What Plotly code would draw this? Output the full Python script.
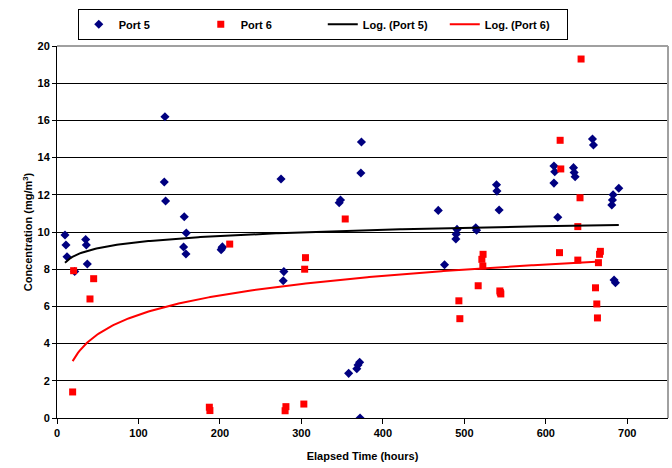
import numpy as np
import plotly.graph_objects as go

# Port 5 data (elapsed hours, concentration mg/m3)
port5_x = [9.8, 11, 12.3, 21.7, 35.2, 36, 37.2,
           132.5, 131.7, 133.3,
           156.2, 158.7, 155.4, 158.3,
           201.5, 202.5, 203,
           275, 278.5, 277.7,
           346.4, 348,
           373.7, 373,
           358, 368, 369.5, 371.5, 372,
           468, 475.7,
           491, 490, 489.6,
           514, 515,
           539.5, 540, 542.7,
           610, 611, 610, 614.7,
           634, 634.8, 636,
           657.3, 658.5,
           681, 681.8, 682.6, 689.6,
           683.8, 685.5]
port5_y = [9.84, 9.3, 8.67, 7.88, 9.6, 9.3, 8.28,
           16.2, 12.69, 11.67,
           10.82, 9.95, 9.19, 8.82,
           9.05, 9.14, 9.2,
           12.85, 7.87, 7.38,
           11.57, 11.72,
           14.84, 13.17,
           2.4, 2.65, 2.85, 3.0, 0.0,
           11.16, 8.24,
           10.14, 9.88, 9.62,
           10.23, 10.1,
           12.54, 12.2, 11.18,
           13.55, 13.24, 12.63, 10.79,
           13.46, 13.2, 12.97,
           15.0, 14.68,
           11.45, 11.72, 12.0, 12.35,
           7.42, 7.27]

# Port 6 data
port6_x = [19.2, 20.4, 40.5, 45,
           187, 187.7, 212,
           280, 281, 303, 304, 305, 353.8,
           493.3, 494.5, 517, 521.5, 522.7, 523,
           543.6, 544.8, 544.2,
           616.8, 617.6, 618.4, 639.3, 639.3, 642, 643.3,
           661, 662.6, 663.4, 664.6, 666, 667]
port6_y = [1.40, 7.92, 6.4, 7.49,
           0.58, 0.4, 9.35,
           0.39, 0.61, 0.75, 8.0, 8.62, 10.7,
           6.3, 5.34, 7.11, 8.53, 8.17, 8.8,
           6.83, 6.67, 6.75,
           8.89, 14.93, 13.39, 10.29, 8.49, 11.84, 19.3,
           7.0, 6.13, 5.38, 8.35, 8.8, 8.96]

# Logarithmic trendline coefficients (y = a*ln(x) + b)
trend5_a, trend5_b = 0.477, 7.26
trend6_a, trend6_b = 1.51, -1.405

x_ticks = [0, 100, 200, 300, 400, 500, 600, 700]
y_ticks = [0, 2, 4, 6, 8, 10, 12, 14, 16, 18, 20]


def log_curve(xs, a, b):
    xs = np.asarray(xs, float)
    xx = np.linspace(xs.min(), xs.max(), 300)
    return xx, a * np.log(xx) + b


t5x, t5y = log_curve(port5_x, trend5_a, trend5_b)
t6x, t6y = log_curve(port6_x, trend6_a, trend6_b)

fig = go.Figure()
fig.add_trace(go.Scatter(x=port5_x, y=port5_y, mode="markers", name="<b>Port 5</b>",
                         marker=dict(symbol="diamond", size=7, color="#000080")))
fig.add_trace(go.Scatter(x=port6_x, y=port6_y, mode="markers", name="<b>Port 6</b>",
                         marker=dict(symbol="square", size=7, color="#FF0000")))
fig.add_trace(go.Scatter(x=t5x, y=t5y, mode="lines", name="<b>Log. (Port 5)</b>",
                         line=dict(color="black", width=2)))
fig.add_trace(go.Scatter(x=t6x, y=t6y, mode="lines", name="<b>Log. (Port 6)</b>",
                         line=dict(color="#FF0000", width=2)))

font_family = "Liberation Sans, Arial, sans-serif"

fig.update_layout(
    width=672, height=468,
    margin=dict(l=57, r=4, t=46, b=50),
    paper_bgcolor="white", plot_bgcolor="white",
    font=dict(family=font_family, size=11, color="black"),
    showlegend=True,
    legend=dict(orientation="h", x=0.034, y=1.1, xanchor="left", yanchor="top",
                bordercolor="black", borderwidth=1, bgcolor="white",
                entrywidth=77, entrywidthmode="pixels",
                font=dict(family=font_family, size=11, color="black")),
    xaxis=dict(range=[0, 750], tickvals=x_ticks,
               ticktext=["<b>%d</b>" % v for v in x_ticks],
               showgrid=False, zeroline=False, showline=True, linecolor="black",
               linewidth=1, ticks="outside", ticklen=5, tickcolor="black",
               title=dict(text="<b>Elapsed Time (hours)</b>", standoff=14,
                          font=dict(size=11))),
    yaxis=dict(range=[0, 20], tickvals=y_ticks,
               ticktext=["<b>%d</b>" % v for v in y_ticks],
               showgrid=True, gridcolor="black", gridwidth=1, zeroline=False,
               showline=True, linecolor="black", linewidth=1,
               ticks="outside", ticklen=4, tickcolor="black",
               title=dict(text="<b>Concentration (mg/m<sup>3</sup>)</b>", standoff=2,
                          font=dict(size=11))),
)
# gray frame on top and right
fig.add_shape(type="line", xref="paper", yref="paper", x0=0, x1=1, y0=1, y1=1,
              line=dict(color="#a0a0a0", width=2))
fig.add_shape(type="line", xref="paper", yref="paper", x0=1, x1=1, y0=0, y1=1,
              line=dict(color="#a0a0a0", width=2))

fig.write_html("out.html")
